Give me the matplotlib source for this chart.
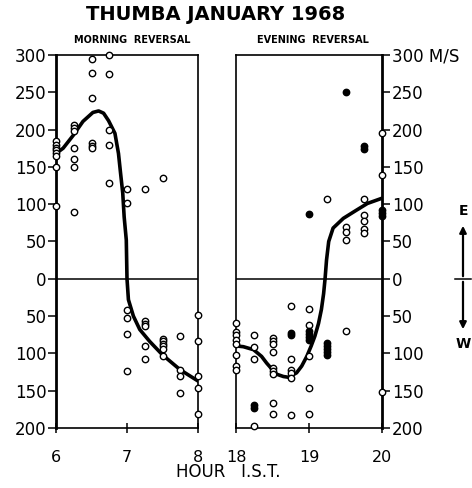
import matplotlib
matplotlib.use("Agg")
import matplotlib.pyplot as plt

# ---------------- data ----------------
y_ticks = [300, 250, 200, 150, 100, 50, 0, -50, -100, -150, -200]
y_left_labels = ['300', '250', '200', '150', '100', '50', '0', '50', '100', '150', '200']
y_right_labels = ['300 M/S', '250', '200', '150', '100', '50', '0', '50', '100', '150', '200']
morning_ticks = [6, 7, 8]
evening_ticks = [18, 19, 20]

# morning reversal, open circles
m_open_h = [6.0]*8 + [6.25]*7 + [6.5]*6 + [6.75]*5 + [7.0]*6 + [7.25]*6 + [7.5]*7 + [7.75]*4 + [8.0]*5
m_open_v = [185, 180, 176, 172, 168, 164, 150, 97,
            206, 202, 198, 175, 160, 150, 90,
            294, 276, 242, 182, 178, 175,
            300, 274, 200, 180, 129,
            121, 101, -42, -53, -74, -124,
            120, -57, -60, -63, -90, -107,
            135, -81, -84, -87, -90, -94, -103,
            -77, -122, -130, -153,
            -49, -83, -130, -147, -181]

# morning curve
m_curve_h = [6.00, 6.10, 6.24, 6.38, 6.52, 6.60, 6.67, 6.74, 6.83, 6.88, 6.91, 6.94,
             6.96, 6.99, 7.00, 7.02, 7.09, 7.18, 7.32, 7.50, 7.75, 8.00]
m_curve_v = [168, 175, 192, 211, 223, 225, 222, 212, 195, 168, 141, 115,
             83, 52, 0, -28, -50, -68, -84, -102, -122, -137]

# evening reversal, open circles
e_open_h = [18.0]*8 + [18.25]*4 + [18.5]*9 + [18.75]*6 + [19.0]*5 + [19.25] + [19.5]*4 + [19.75]*5 + [20.0]*3
e_open_v = [-59, -71, -76, -82, -88, -102, -117, -122,
            -75, -91, -107, -197,
            -80, -84, -88, -98, -120, -123, -128, -166, -181,
            -37, -107, -122, -126, -133, -182,
            -41, -62, -103, -146, -181,
            107,
            -70, 70, 63, 52,
            107, 86, 77, 67, 62,
            196, 139, -152]

# evening reversal, filled circles
e_fill_h = [18.25]*2 + [18.75]*2 + [19.0]*5 + [19.25]*5 + [19.5] + [19.75]*2 + [20.0]*3
e_fill_v = [-169, -173,
            -72, -75,
            -70, -74, -78, -82, 87,
            -86, -90, -94, -98, -102,
            250,
            178, 174,
            92, 88, 84]

# evening curve
e_curve_h = [18.00, 18.10, 18.24, 18.35, 18.42, 18.50, 18.56, 18.65, 18.72, 18.83, 18.90,
             18.97, 19.03, 19.08, 19.13, 19.17, 19.20, 19.22, 19.24, 19.27, 19.33,
             19.47, 19.65, 19.80, 20.00]
e_curve_v = [-90, -91, -95, -104, -113, -122, -128, -131, -132, -126, -117,
             -104, -90, -77, -60, -41, -20, 0, 25, 50, 68,
             81, 92, 101, 108]

# ---------------- figure ----------------
plt.rcParams['font.family'] = ['DejaVu Sans']
W, H = 472, 488
fig = plt.figure(figsize=(W/100, H/100), dpi=100)

def fx(px):
    return px / W

def fy(py):
    return 1 - py / H

top, bot = 55, 428
axL = fig.add_axes([fx(56), fy(bot), fx(198) - fx(56), fy(top) - fy(bot)])
axR = fig.add_axes([fx(236), fy(bot), fx(382) - fx(236), fy(top) - fy(bot)])

open_kw = dict(linestyle='none', marker='o', markersize=4.6, markerfacecolor='white',
               markeredgecolor='black', markeredgewidth=1.0, clip_on=False, zorder=4)
fill_kw = dict(linestyle='none', marker='o', markersize=4.6, markerfacecolor='black',
               markeredgecolor='black', markeredgewidth=1.0, clip_on=False, zorder=4)

axL.plot(m_curve_h, m_curve_v, color='black', lw=2.6, zorder=3, solid_capstyle='round')
axL.plot(m_open_h, m_open_v, **open_kw)

axR.plot(e_curve_h, e_curve_v, color='black', lw=2.6, zorder=3, solid_capstyle='round')
axR.plot(e_open_h, e_open_v, **open_kw)
axR.plot(e_fill_h, e_fill_v, **fill_kw)

for ax, xt in ((axL, morning_ticks), (axR, evening_ticks)):
    ax.set_ylim(-200, 300)
    ax.set_xlim(xt[0], xt[-1])
    ax.axhline(0, color='black', lw=1.1, zorder=2)
    ax.set_xticks(xt)
    ax.set_xticklabels([str(t) for t in xt], fontsize=11.5)
    ax.tick_params(axis='x', direction='inout', length=7, width=1.1, pad=12)
    for s in ax.spines.values():
        s.set_linewidth(1.2)

axL.set_yticks(y_ticks)
axL.set_yticklabels(y_left_labels, fontsize=12)
axL.tick_params(axis='y', direction='out', length=6, width=1.1, pad=1)
axL.spines['left'].set_linewidth(2.0)

axR.yaxis.tick_right()
axR.set_yticks(y_ticks)
axR.set_yticklabels(y_right_labels, fontsize=12)
axR.tick_params(axis='y', direction='out', length=6, width=1.1, pad=1)
axR.spines['right'].set_linewidth(2.0)

# titles
fig.text(fx(216), fy(14), 'THUMBA JANUARY 1968', ha='center', va='center',
         fontsize=14, fontweight='bold')
fig.text(fx(132), fy(40), 'MORNING  REVERSAL', ha='center', va='center',
         fontsize=7, fontweight='bold')
fig.text(fx(313), fy(40), 'EVENING  REVERSAL', ha='center', va='center',
         fontsize=7, fontweight='bold')
fig.text(fx(228), fy(472), 'HOUR   I.S.T.', ha='center', va='center', fontsize=12)

# E / W arrow
fig.add_artist(matplotlib.patches.FancyArrowPatch(
    (fx(463), fy(279)), (fx(463), fy(223)), transform=fig.transFigure,
    arrowstyle='-|>', mutation_scale=10, color='black', lw=1.6))
fig.add_artist(matplotlib.patches.FancyArrowPatch(
    (fx(463), fy(279)), (fx(463), fy(332)), transform=fig.transFigure,
    arrowstyle='-|>', mutation_scale=10, color='black', lw=1.6))
fig.add_artist(matplotlib.lines.Line2D([fx(455), fx(471)], [fy(279), fy(279)],
                                       transform=fig.transFigure, color='black', lw=1.1))
fig.text(fx(463), fy(211), 'E', ha='center', va='center', fontsize=10, fontweight='bold')
fig.text(fx(463), fy(344), 'W', ha='center', va='center', fontsize=10, fontweight='bold')

fig.savefig('out.png', dpi=100)
